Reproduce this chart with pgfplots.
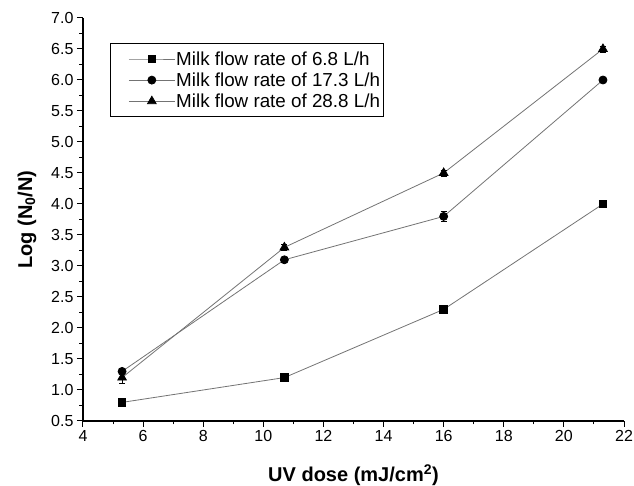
\documentclass[border=0pt]{standalone}
\usepackage{fontspec}
\setmainfont{Liberation Sans}
\usepackage{pgfplots}
\pgfplotsset{compat=1.18}
\definecolor{linegray}{gray}{0.45}
\begin{document}
\begin{tikzpicture}
\path[use as bounding box] (-83pt,-65pt) rectangle (551pt,421pt);
\begin{axis}[
  at={(0pt,0pt)}, anchor=south west,
  scale only axis, width=541pt, height=403pt,
  xmin=4, xmax=22, ymin=0.5, ymax=7.0,
  axis x line*=bottom, axis y line*=left,
  axis line style={-, line width=1.2pt, black},
  xtick={4,6,8,10,12,14,16,18,20,22}, minor x tick num=1,
  ytick={0.5,1.0,1.5,2.0,2.5,3.0,3.5,4.0,4.5,5.0,5.5,6.0,6.5,7.0}, minor y tick num=1,
  tick align=outside,
  major tick length=6pt, minor tick length=3.5pt,
  every tick/.style={black, line width=1pt},
  /pgf/number format/assume math mode=true,
  tick label style={font=\fontsize{16}{19}\selectfont},
  yticklabel style={/pgf/number format/.cd, fixed, fixed zerofill, precision=1},
  xticklabel style={/pgf/number format/.cd, fixed, precision=0},
  every axis x label/.style={at={(rel axis cs:0.5,0)}, yshift=-54pt, anchor=center},
  every axis y label/.style={at={(rel axis cs:0,0.5)}, xshift=-56pt, rotate=90, anchor=center},
  label style={font=\fontsize{20}{24}\selectfont\bfseries},
  xlabel={UV dose (mJ/cm\textsuperscript{2})},
  ylabel={Log (N\textsubscript{0}/N)},
  legend style={at={(rel axis cs:0.0499,0.938)}, anchor=north west,
    draw=black, line width=0.9pt, font=\fontsize{18.8}{21}\selectfont,
    row sep=2pt, inner xsep=2pt, inner ysep=6pt,
    nodes={inner xsep=1pt}},
  legend cell align=left,
  legend image code/.code={\path (-16pt,0pt); \draw[mark repeat=2, mark phase=2, #1] plot coordinates {(0pt,0pt) (23pt,0pt) (46pt,0pt)};},
  error bars/error bar style={black, line width=0.6pt},
  error bars/error mark options={rotate=90, mark size=3pt, black, line width=0.6pt},
]
\addplot[color=linegray, line width=0.8pt, mark=square*, mark size=3.8pt, mark options={fill=black, draw=black, solid},
  error bars/.cd, y dir=both, y explicit]
  table[x=x, y=y, y error=e] {
x y e
5.3 0.8 0.02
10.7 1.2 0.05
16 2.3 0.07
21.3 4.0 0.02
};
\addlegendentry{Milk flow rate of 6.8 L/h}
\addplot[color=linegray, line width=0.8pt, mark=*, mark size=4pt, mark options={fill=black, draw=black, solid},
  error bars/.cd, y dir=both, y explicit]
  table[x=x, y=y, y error=e] {
x y e
5.3 1.3 0.03
10.7 3.1 0.03
16 3.8 0.08
21.3 6.0 0.02
};
\addlegendentry{Milk flow rate of 17.3 L/h}
\addplot[color=linegray, line width=0.8pt, mark=triangle*, mark size=5pt, mark options={fill=black, draw=black, solid},
  error bars/.cd, y dir=both, y explicit]
  table[x=x, y=y, y error=e] {
x y e
5.3 1.2 0.1
10.7 3.3 0.05
16 4.5 0.05
21.3 6.5 0.05
};
\addlegendentry{Milk flow rate of 28.8 L/h}
\end{axis}
\end{tikzpicture}
\end{document}
